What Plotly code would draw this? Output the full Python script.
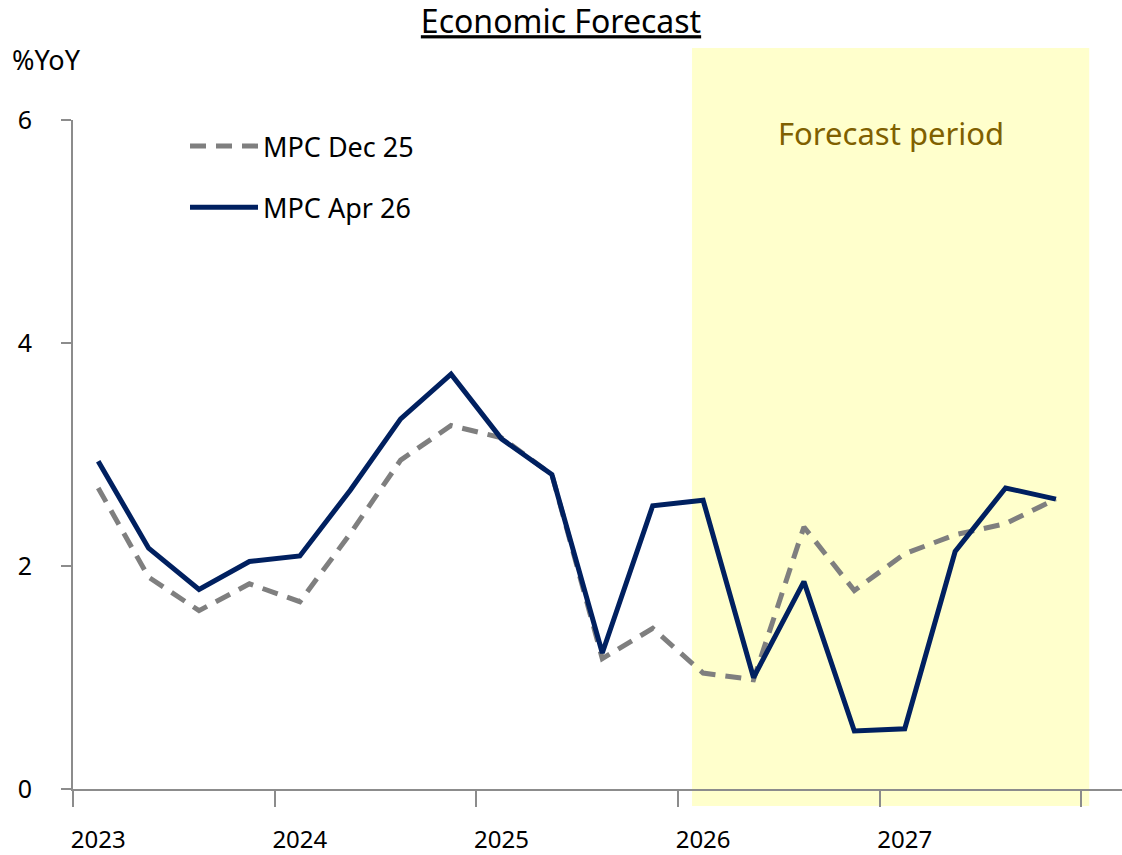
import plotly.graph_objects as go

years = ["2023", "2024", "2025", "2026", "2027"]
quarters = [f"{y}Q{q}" for y in years for q in range(1, 5)]
# x position in quarters from the start of 2023 (mid-quarter)
x_pos = [i + 0.5 for i in range(len(quarters))]

mpc_dec25 = [2.70, 1.90, 1.60, 1.84, 1.68, 2.29, 2.95, 3.26, 3.15, 2.82,
             1.17, 1.44, 1.04, 0.98, 2.35, 1.78, 2.11, 2.28, 2.38, 2.60]
mpc_apr26 = [2.94, 2.16, 1.79, 2.04, 2.09, 2.68, 3.32, 3.72, 3.14, 2.82,
             1.22, 2.54, 2.59, 1.00, 1.86, 0.52, 0.54, 2.13, 2.70, 2.60]

year_tick_pos = [0.5, 4.5, 8.5, 12.5, 16.5]
forecast_start, forecast_end = 12.28, 20.16

FONT = "Noto Sans"
W, H = 1122, 855
L, R, T, B = 73, 0, 120, 66
PW, PH = W - L - R, H - T - B


def px_x(px):
    return (px - L) / PW


def px_y(py):
    return (H - B - py) / PH


fig = go.Figure()
fig.add_trace(go.Scatter(
    x=x_pos, y=mpc_dec25, mode="lines", name="MPC Dec 25",
    line=dict(color="#7F7F7F", width=5, dash="16px,10px"),
    legendgroup="a",
))
fig.add_trace(go.Scatter(
    x=x_pos, y=mpc_apr26, mode="lines", name="MPC Apr 26",
    line=dict(color="#002060", width=5),
    legendgroup="b",
))

fig.add_shape(type="rect", xref="x", yref="paper",
              x0=forecast_start, x1=forecast_end, y0=px_y(806), y1=px_y(48),
              fillcolor="#FFFFCC", line_width=0, layer="below")

fig.add_annotation(x=(forecast_start + forecast_end) / 2, y=px_y(133),
                   xref="x", yref="paper", yanchor="middle",
                   text="Forecast period", showarrow=False,
                   font=dict(family=FONT, size=31, color="#7F6000"))
fig.add_annotation(x=px_x(10), y=px_y(60), xref="paper", yref="paper",
                   text="%YoY", showarrow=False, xanchor="left", yanchor="middle",
                   font=dict(family=FONT, size=27, color="black"))

fig.update_layout(
    width=W, height=H,
    margin=dict(l=L, r=R, t=T, b=B, autoexpand=False),
    paper_bgcolor="white", plot_bgcolor="white",
    title=dict(text="<u>Economic Forecast</u>", x=0.5, xanchor="center",
               y=1 - 22 / H, yanchor="middle",
               font=dict(family=FONT, size=32, color="black")),
    font=dict(family=FONT, size=25, color="black"),
    showlegend=True,
    legend=dict(x=px_x(185), y=px_y(122), xanchor="left", yanchor="top",
                bgcolor="rgba(0,0,0,0)", tracegroupgap=23,
                font=dict(family=FONT, size=27, color="black"),
                itemwidth=68),
    xaxis=dict(range=[0, 20.81], tickmode="array", tickvals=year_tick_pos,
               ticktext=years, ticks="", showgrid=False, zeroline=False,
               showline=True, linecolor="#8C8C8C", linewidth=2,
               ticklabelstandoff=28, automargin=False,
               tickfont=dict(family=FONT, size=24, color="black"),
               minor=dict(ticks="outside", tick0=0, dtick=4, ticklen=16,
                          tickcolor="#8C8C8C", tickwidth=2, showgrid=False)),
    yaxis=dict(range=[0, 6], tickvals=[0, 2, 4, 6], ticks="outside",
               ticklen=10, tickcolor="#8C8C8C", tickwidth=2,
               showgrid=False, zeroline=False, showline=True,
               linecolor="#8C8C8C", linewidth=2, ticklabelstandoff=24,
               automargin=False,
               tickfont=dict(family=FONT, size=25, color="black")),
)

fig.write_html("out.html",
               config={"displayModeBar": False},
               post_script="document.body.style.margin='0';"
                           "document.body.style.overflow='hidden';")
